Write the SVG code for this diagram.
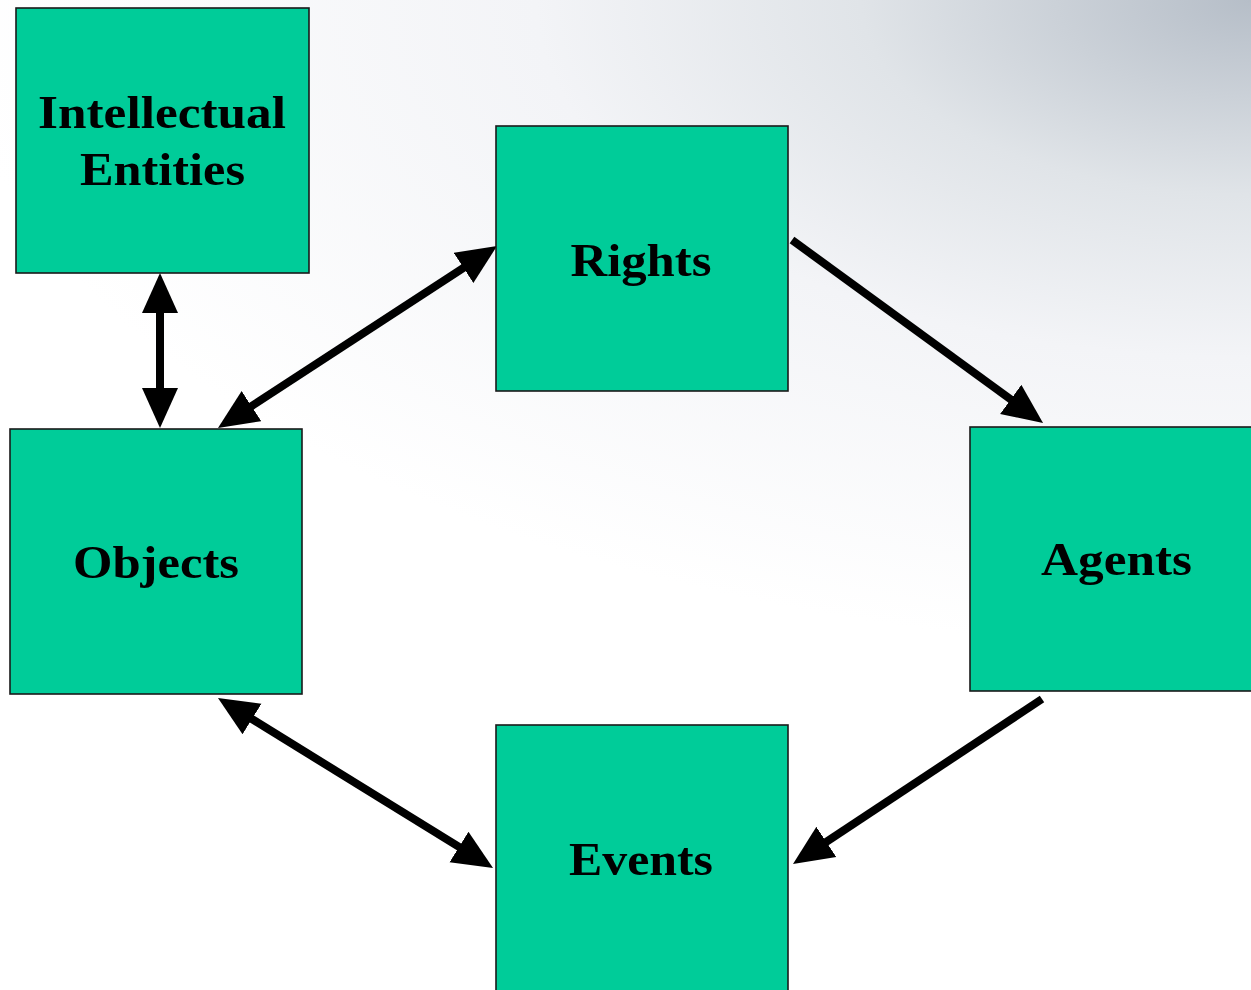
<svg xmlns="http://www.w3.org/2000/svg" width="1251" height="990" viewBox="0 0 1251 990">
  <style>
    .box { fill: #00CC99; stroke: #1a1a1a; stroke-width: 1.6; }
    .label { font-family: "Liberation Serif", "DejaVu Serif", serif; font-weight: bold; font-size: 47px; fill: #000; text-anchor: middle; }
    .link { stroke: #000; stroke-width: 8; fill: none; }
  </style>
  <defs>
    <radialGradient id="bg" gradientUnits="userSpaceOnUse" cx="1251" cy="0" r="1300"
                    gradientTransform="translate(1251 0) scale(1 0.5) translate(-1251 0)">
      <stop offset="0" stop-color="#b6bec8"/>
      <stop offset="0.3" stop-color="#e0e4e8"/>
      <stop offset="0.55" stop-color="#f3f4f7"/>
      <stop offset="1" stop-color="#ffffff"/>
    </radialGradient>
    <marker id="head" markerUnits="userSpaceOnUse" viewBox="0 -19 42 38"
            markerWidth="42" markerHeight="38" refX="10" refY="0" orient="auto-start-reverse">
      <path d="M0,-18 L40,0 L0,18 z" fill="#000"/>
    </marker>
  </defs>

  <rect width="1251" height="990" fill="url(#bg)"/>

  <!-- connectors -->
  <g id="connectors">
    <line class="link" x1="160" y1="303" x2="160" y2="398" marker-start="url(#head)" marker-end="url(#head)"/>
    <line class="link" x1="243.1" y1="411.6" x2="471.9" y2="262.4" marker-start="url(#head)" marker-end="url(#head)"/>
    <line class="link" x1="792" y1="240" x2="1018.8" y2="405.3" marker-end="url(#head)"/>
    <line class="link" x1="1042" y1="699" x2="818" y2="847.4" marker-end="url(#head)"/>
    <line class="link" x1="243.5" y1="713.8" x2="467.5" y2="852.2" marker-start="url(#head)" marker-end="url(#head)"/>
  </g>

  <!-- nodes -->
  <g id="intellectual-entities">
    <rect class="box" x="16" y="8" width="293" height="265"/>
    <text class="label" x="162" y="128" textLength="248" lengthAdjust="spacingAndGlyphs">Intellectual</text>
    <text class="label" x="162.5" y="185" textLength="165" lengthAdjust="spacingAndGlyphs">Entities</text>
  </g>
  <g id="rights">
    <rect class="box" x="496" y="126" width="292" height="265"/>
    <text class="label" x="641" y="276" textLength="141" lengthAdjust="spacingAndGlyphs">Rights</text>
  </g>
  <g id="objects">
    <rect class="box" x="10" y="429" width="292" height="265"/>
    <text class="label" x="156" y="578" textLength="166" lengthAdjust="spacingAndGlyphs">Objects</text>
  </g>
  <g id="agents">
    <rect class="box" x="970" y="427" width="290" height="264"/>
    <text class="label" x="1116.5" y="575" textLength="151" lengthAdjust="spacingAndGlyphs">Agents</text>
  </g>
  <g id="events">
    <rect class="box" x="496" y="725" width="292" height="275"/>
    <text class="label" x="641" y="875" textLength="144" lengthAdjust="spacingAndGlyphs">Events</text>
  </g>
</svg>
